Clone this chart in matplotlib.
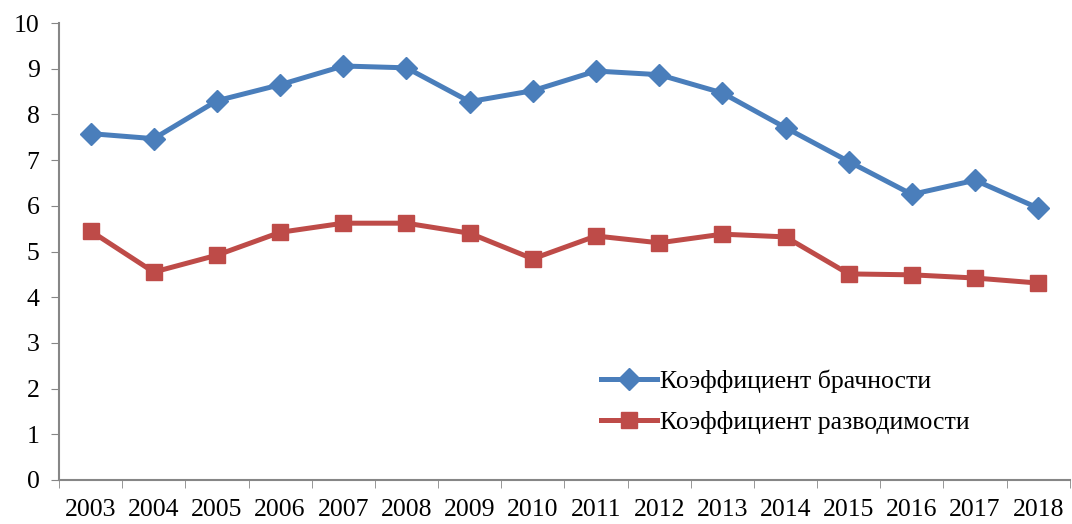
import matplotlib
matplotlib.use("Agg")
import matplotlib.pyplot as plt
import numpy as np

years = ["2003", "2004", "2005", "2006", "2007", "2008", "2009", "2010",
         "2011", "2012", "2013", "2014", "2015", "2016", "2017", "2018"]
marriage = [7.58, 7.47, 8.30, 8.65, 9.06, 9.02, 8.28, 8.52,
            8.95, 8.87, 8.47, 7.71, 6.97, 6.25, 6.56, 5.95]
divorce = [5.45, 4.55, 4.92, 5.42, 5.62, 5.62, 5.40, 4.84,
           5.34, 5.19, 5.38, 5.32, 4.51, 4.49, 4.42, 4.31]

plt.rcParams['font.family'] = ['Liberation Serif', 'DejaVu Serif']

fig = plt.figure(figsize=(10.72, 5.24), dpi=100)
ax = fig.add_axes([0.055, 0.084, 0.943, 0.872])

x = np.arange(len(years))
ax.plot(x, marriage, color='#4A7EBB', lw=3.6, marker='D', ms=11,
        label='Коэффициент брачности')
ax.plot(x, divorce, color='#BE4B48', lw=3.6, marker='s', ms=12,
        label='Коэффициент разводимости')

ax.set_xlim(-0.5, len(years) - 0.5)
ax.set_ylim(0, 10)
ax.set_yticks(range(0, 11))
ax.set_xticks(x)
ax.set_xticklabels(years)
ax.set_xticks(np.arange(-0.5, len(years), 1), minor=True)
ax.tick_params(axis='x', which='major', length=0, pad=14, labelsize=18.5)
ax.tick_params(axis='x', which='minor', length=6, color='#868686', direction='out')
ax.tick_params(axis='y', length=6, color='#868686', labelsize=18.5, pad=8)

for s in ['top', 'right']:
    ax.spines[s].set_visible(False)
for s in ['left', 'bottom']:
    ax.spines[s].set_color('#868686')
    ax.spines[s].set_linewidth(1.5)

ax.legend(loc='center left', bbox_to_anchor=(0.513, 0.171), frameon=False,
          fontsize=18.5, handlelength=2.2, handletextpad=0.1, labelspacing=0.7)

fig.savefig("out.png", dpi=100)
